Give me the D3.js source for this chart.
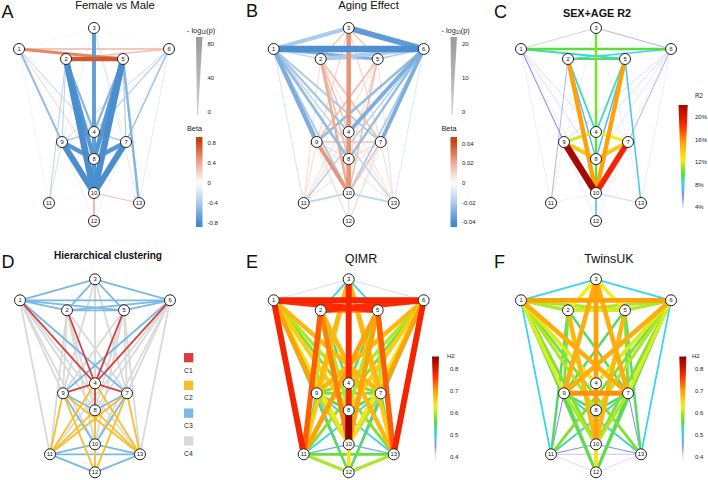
<!DOCTYPE html>
<html><head><meta charset="utf-8">
<script src="https://cdn.jsdelivr.net/npm/d3@7"></script>
<style>body{margin:0;background:#fff} svg{display:block;font-family:Arial,"Liberation Sans",sans-serif}</style>
</head><body><svg id="c" width="708" height="480"></svg>
<script>
// ---------- data ----------
const nodeIds = [1,2,3,4,5,6,7,8,9,10,11,12,13];
const nodeLayoutX = [-75,-28,0,0,29,75,32,0,-32,0,-45,0,45];
const nodeLayoutY = [21,31,0,104,31,21,114,131,114,165,175,193,175];

const panelLetters = ["A","B","C","D","E","F"];
const panelTitles = ["Female vs Male","Aging Effect","SEX+AGE R2","Hierarchical clustering","QIMR","TwinsUK"];

// [source, target, beta, -log10(p)]
const edgesA = [
 [1,6,0.35,20],[1,5,0.55,35],[2,5,0.75,60],[2,6,0.3,18],
 [3,10,-0.7,50],[2,10,-0.8,85],[5,10,-0.8,85],[2,8,-0.75,55],[5,8,-0.75,60],
 [9,10,-0.8,80],[7,10,-0.8,80],[9,8,-0.75,55],[7,8,-0.75,55],[8,10,-0.75,50],
 [4,10,-0.7,40],[4,8,-0.6,30],[2,4,-0.55,25],[5,4,-0.55,25],[9,4,-0.4,15],[7,4,-0.4,15],
 [1,9,-0.5,22],[1,8,0.3,6],[1,4,-0.3,10],[6,7,-0.45,18],[6,4,-0.35,12],[6,9,-0.3,8],
 [5,13,-0.55,30],[2,11,-0.35,10],[2,9,-0.35,10],[5,7,-0.4,12],[9,11,-0.3,6],
 [3,13,-0.25,5],[3,9,-0.2,4],[3,7,-0.2,4],[10,12,0.45,15],[10,13,0.35,8],
 [10,11,0.1,2],[11,12,-0.1,2],[1,11,-0.2,2],[6,13,-0.25,4],[3,12,-0.2,3],
 [1,3,0.15,1],[3,6,0.1,1],[9,12,-0.2,3],[7,12,-0.2,3],[1,10,-0.15,2],[6,10,-0.2,3],
 [4,11,-0.15,2],[4,13,-0.15,2],[8,12,-0.2,3],[1,7,0.15,2]
];
const betaTicksA = [0.8,0.4,0,-0.4,-0.8];
const logpTicksA = [80,40,0];

const edgesB = [
 [1,6,-0.04,22],[3,6,-0.036,19],[1,3,-0.02,14],[2,6,-0.02,13],[1,5,-0.03,10],
 [2,5,-0.015,5],[1,2,-0.015,5],[5,6,-0.02,5],
 [1,9,-0.03,14],[1,8,-0.025,9],[1,4,-0.022,7],[1,7,-0.02,6],[1,10,-0.02,6],[1,13,-0.015,4],[1,11,-0.012,2],[1,12,-0.01,1.5],
 [6,7,-0.03,12],[6,4,-0.03,13],[6,9,-0.025,8],[6,8,-0.025,7],[6,10,-0.02,5],[6,11,-0.018,4],[6,12,-0.01,1.5],[6,13,-0.01,2],
 [3,10,0.025,15],[4,10,0.025,12],[9,10,0.025,12],[2,10,0.02,8],[2,8,0.015,5],[2,4,0.015,4],[2,7,0.015,5],
 [5,10,0.015,5],[5,9,0.015,6],[5,8,0.01,3],[7,10,0.015,5],[9,7,0.015,5],[9,8,0.01,3],[7,8,0.01,3],
 [10,11,-0.015,6],[10,13,-0.015,6],[2,3,0.015,3],[3,5,0.015,3],[3,9,0.01,3],[3,7,0.01,3],
 [9,11,0.01,2],[4,11,0.01,2],[7,13,0.01,2],[4,13,0.01,2],[9,12,0.01,2],[7,12,0.01,2],[4,12,0.01,2],
 [8,12,0.01,2],[2,11,0.01,2],[5,13,0.01,2],[9,13,0.01,2],[7,11,0.01,2],[2,13,0.01,2],[5,11,0.01,2]
];
const betaTicksB = [0.04,0.02,0,-0.02,-0.04];
const logpTicksB = [20,10,0];

// [source, target, R2 %]
const edgesC = [
 [9,10,22],[7,10,19],[2,10,15.5],[5,10,15.5],[9,8,14],[7,8,14],[9,4,12],[7,4,12.5],
 [3,4,10.5],[4,8,10],[8,10,10],[1,6,10],[2,5,9.5],[1,5,8.5],[2,6,8],[2,4,8.5],[5,4,8.5],
 [5,8,7.5],[2,8,7],[5,13,7.5],[10,12,7.5],[1,9,6],[2,11,5.5],[1,4,4.8],[1,8,4.8],
 [1,3,5],[3,6,5.5],[6,7,5.5],[6,9,4.8],[6,4,4.8],[6,8,4.6],[10,13,5],[3,12,4.6],
 [1,11,4.4],[6,13,4.4],[9,12,4.4],[7,12,4.4],[9,11,4.3],[10,11,4.3],[7,13,4.3],
 [3,9,4.3],[3,7,4.3],[1,10,4.3],[6,10,4.3]
];
const r2Ticks = [20,16,12,8,4];

// [source, target, cluster]
const edgesD = [
 [1,3,"C3"],[3,6,"C3"],[2,3,"C3"],[3,5,"C3"],[1,6,"C3"],[1,2,"C3"],[1,5,"C3"],[2,5,"C3"],[2,6,"C3"],[5,6,"C3"],
 [1,7,"C3"],[6,9,"C3"],[9,10,"C3"],[7,10,"C3"],[11,13,"C3"],[11,12,"C3"],[12,13,"C3"],[10,11,"C3"],[10,13,"C3"],[9,8,"C3"],[7,8,"C3"],
 [1,4,"C1"],[2,4,"C1"],[4,5,"C1"],[4,6,"C1"],[4,9,"C1"],[4,7,"C1"],[4,8,"C1"],
 [9,11,"C2"],[9,12,"C2"],[9,13,"C2"],[7,11,"C2"],[7,12,"C2"],[7,13,"C2"],[4,11,"C2"],[4,13,"C2"],[8,11,"C2"],[8,13,"C2"],[8,12,"C2"],
 [1,11,"C4"],[1,9,"C4"],[1,8,"C4"],[1,10,"C4"],[6,13,"C4"],[6,7,"C4"],[6,8,"C4"],[6,10,"C4"],
 [2,9,"C4"],[2,8,"C4"],[2,10,"C4"],[2,7,"C4"],[2,11,"C4"],[5,7,"C4"],[5,8,"C4"],[5,10,"C4"],[5,9,"C4"],[5,13,"C4"],
 [3,4,"C4"],[3,8,"C4"],[3,9,"C4"],[3,7,"C4"],[4,10,"C4"],[1,13,"C4"],[6,11,"C4"]
];
const clusterNames = ["C1","C2","C3","C4"];
const clusterColors = ["#d8403d","#f8bf2c","#7ab8e5","#d9d9d9"];

// [source, target, H2]
const edgesE = [
 [1,6,0.78],[3,4,0.78],[4,8,0.78],[8,10,0.85],[1,5,0.77],[2,6,0.77],[2,5,0.72],[1,11,0.78],[6,13,0.78],
 [2,11,0.74],[5,13,0.74],[2,10,0.72],[5,11,0.7],[2,13,0.68],[5,10,0.7],
 [1,9,0.7],[1,7,0.68],[1,8,0.66],[1,10,0.64],[1,4,0.6],[1,13,0.58],[1,12,0.55],
 [6,7,0.7],[6,9,0.68],[6,8,0.66],[6,10,0.64],[6,4,0.6],[6,11,0.58],[6,12,0.55],
 [3,9,0.68],[3,7,0.68],[3,11,0.66],[3,13,0.66],[1,3,0.42],[3,6,0.42],[2,3,0.5],[3,5,0.5],
 [11,12,0.6],[12,13,0.6],[11,13,0.57],[10,11,0.47],[10,13,0.47],[10,12,0.64],
 [9,7,0.58],[9,4,0.58],[7,4,0.58],[9,8,0.56],[7,8,0.56],[9,10,0.6],[7,10,0.6],
 [9,11,0.55],[7,13,0.55],[9,13,0.5],[7,11,0.5],[9,12,0.45],[7,12,0.45],
 [2,9,0.6],[5,7,0.6],[2,8,0.6],[5,8,0.6],[2,4,0.55],[5,4,0.55]
];
const edgesF = [
 [1,6,0.7],[3,10,0.7],[3,9,0.69],[3,7,0.69],[9,7,0.71],[1,7,0.69],[6,9,0.69],[2,10,0.68],[5,10,0.68],
 [1,2,0.6],[2,5,0.62],[5,6,0.6],[1,5,0.6],[2,6,0.6],[2,3,0.63],[3,5,0.63],[1,3,0.5],[3,6,0.5],
 [1,11,0.5],[6,13,0.5],
 [1,9,0.62],[1,4,0.62],[1,8,0.6],[1,10,0.58],[1,13,0.58],[1,12,0.56],
 [6,7,0.62],[6,4,0.62],[6,8,0.6],[6,10,0.58],[6,11,0.58],[6,12,0.56],
 [10,12,0.64],[11,12,0.42],[12,13,0.42],[10,11,0.45],[10,13,0.45],[9,11,0.45],[7,13,0.45],[11,13,0.43],
 [9,12,0.55],[7,12,0.55],[9,10,0.6],[7,10,0.6],[9,13,0.52],[7,11,0.52],[9,8,0.55],[7,8,0.55],
 [2,9,0.58],[5,7,0.58],[2,7,0.55],[5,9,0.55],[2,11,0.55],[5,13,0.55],[4,10,0.6]
];
const h2Ticks = [0.8,0.7,0.6,0.5,0.4];

// ---------- drawing ----------
const svg = d3.select("#c");
const defs = svg.append("defs");
const idx = id => nodeIds.indexOf(id);
const FONT = "Arial, 'Liberation Sans', sans-serif";

const rainbowColors = ["#e8e2fa","#8a8cf0","#35d6ef","#5edc3a","#f2ee1e","#ffa20a","#ff2a00","#8b0000"];
const r2Color = d3.scaleLinear().domain([4,6,8,10,12.5,15.5,18.5,23]).range(rainbowColors).clamp(true);
const h2Color = d3.scaleLinear().domain([0.4,0.45,0.5,0.565,0.63,0.7,0.77,0.86]).range(rainbowColors).clamp(true);
const betaColors = ["#3f86cc","#a6c8e8","#ffffff","#eca68e","#c9400f"];

function panelScales(cx, cy){
  return {
    x: d3.scaleLinear().domain([-75,75]).range([cx-75,cx+75]),
    y: d3.scaleLinear().domain([0,193]).range([cy,cy+193])
  };
}

function drawNetwork(cx, cy, edges, color, width, order){
  const sc = panelScales(cx, cy);
  const g = svg.append("g");
  const data = edges.slice().sort(order || ((a,b)=>width(a)-width(b)));
  g.selectAll("line").data(data).join("line")
    .attr("x1", d=>sc.x(nodeLayoutX[idx(d[0])]))
    .attr("y1", d=>sc.y(nodeLayoutY[idx(d[0])]))
    .attr("x2", d=>sc.x(nodeLayoutX[idx(d[1])]))
    .attr("y2", d=>sc.y(nodeLayoutY[idx(d[1])]))
    .attr("stroke", color).attr("stroke-width", width);
  const n = g.selectAll("g.nd").data(nodeIds).join("g").attr("class","nd")
    .attr("transform", id=>`translate(${sc.x(nodeLayoutX[idx(id)])},${sc.y(nodeLayoutY[idx(id)])})`);
  n.append("circle").attr("r",5.5).attr("fill","#fff").attr("stroke","#222").attr("stroke-width",1);
  n.append("text").text(d=>d).attr("text-anchor","middle").attr("dy","0.36em")
    .attr("font-size",5.8).attr("font-family",FONT).attr("fill","#111");
}

function label(x,y,txt,size,opts={}){
  const t = svg.append("text").attr("x",x).attr("y",y).text(txt)
    .attr("font-size",size).attr("font-family",FONT).attr("fill",opts.fill||"#222")
    .attr("text-anchor",opts.anchor||"start").attr("font-weight",opts.weight||"normal");
  return t;
}

function gradient(id, colorAt, n){
  const lg = defs.append("linearGradient").attr("id",id).attr("x1",0).attr("y1",0).attr("x2",0).attr("y2",1);
  d3.range(n+1).forEach(i=>{
    lg.append("stop").attr("offset",i/n).attr("stop-color",colorAt(i/n));
  });
}

// ----- Panels A & B (beta / -log10 p) -----
function betaPanel(cx, cy, edges, maxBeta, maxLogp, betaTicks, logpTicks, lx, gid){
  const bColor = d3.scaleLinear().domain([-1,-0.5,0,0.5,1].map(v=>v*maxBeta)).range(betaColors).clamp(true);
  const wScale = d3.scaleLinear().domain([0,maxLogp]).range([0.3,6.8]);
  drawNetwork(cx, cy, edges, d=>bColor(d[2]), d=>wScale(d[3]));
  // width legend
  const tl = label(lx, 32.5, "- log", 7.3);
  tl.append("tspan").text("10").attr("font-size",4.5).attr("dy",1.5);
  tl.append("tspan").text("(p)").attr("dy",-1.5);
  gradient(gid+"w", t=>d3.interpolateRgb("#9a9a9a","#d0d0d0")(t), 4);
  const lpY = d3.scaleLinear().domain([0,logpTicks[0]]).range([112,44]);
  svg.append("polygon")
    .attr("points",[[lx+9,37],[lx+15.5,37],[lx+11,115],[lx+10,115]].map(p=>p.join(",")).join(" "))
    .attr("fill",`url(#${gid}w)`);
  logpTicks.forEach(v=>label(lx+20.5, lpY(v)+2, v, 6));
  // colour legend
  label(lx, 130.5, "Beta", 7.3);
  const bY = d3.scaleLinear().domain([-maxBeta,maxBeta]).range([225,141]);
  gradient(gid+"c", t=>bColor(bY.invert(137+t*90)), 20);
  svg.append("rect").attr("x",lx+9).attr("y",137).attr("width",6.5).attr("height",90).attr("fill",`url(#${gid}c)`);
  betaTicks.forEach(v=>label(lx+20.5, bY(v)+2, v, 6));
}
betaPanel(94, 28, edgesA, 0.85, 90, betaTicksA, logpTicksA, 187, "ga");
betaPanel(348.7, 28, edgesB, 0.043, 23, betaTicksB, logpTicksB, 441.5, "gb");

// ----- Panel C (R2) -----
{
  const w = d3.scaleLinear().domain([4,23]).range([0.3,7]);
  drawNetwork(596, 28, edgesC, d=>r2Color(d[2]), d=>w(d[2]));
  const yS = d3.scaleLinear().domain([4,20]).range([207.3,117.3]);
  gradient("gc", t=>r2Color(yS.invert(105+t*103)), 30);
  svg.append("polygon").attr("points","678.5,105 687.7,105 683.6,208 682.2,208").attr("fill","url(#gc)");
  label(695, 97.5, "R2", 6.3);
  r2Ticks.forEach(v=>label(695, yS(v)+2, v+"%", 6));
}

// ----- Panel D (clusters) -----
{
  const cCol = d3.scaleOrdinal().domain(clusterNames).range(clusterColors);
  const rank = {C4:0,C3:1,C2:2,C1:3};
  drawNetwork(95, 279.3, edgesD, d=>cCol(d[2]), ()=>1.8, (a,b)=>rank[a[2]]-rank[b[2]]);
  const ly = d3.scaleBand().domain(clusterNames).range([353,446+18]);
  clusterNames.forEach(c=>{
    svg.append("rect").attr("x",184).attr("y",ly(c)).attr("width",9.3).attr("height",9.3).attr("fill",cCol(c));
    label(184, ly(c)+19.5, c, 6.8);
  });
}

// ----- Panels E & F (H2) -----
function h2Panel(cx, cy, edges, bx, lx, gid){
  const w = d3.scaleLinear().domain([0.4,0.85]).range([0.3,7]);
  drawNetwork(cx, cy, edges, d=>h2Color(d[2]), d=>w(d[2]));
  const yS = d3.scaleLinear().domain([0.4,0.8]).range([457.3,369.3]);
  gradient(gid, t=>h2Color(yS.invert(356.5+t*103.5)), 30);
  svg.append("polygon").attr("points",`${bx},356.5 ${bx+7},356.5 ${bx+4},460 ${bx+3},460`).attr("fill",`url(#${gid})`);
  label(lx-3, 357.5, "H2", 6);
  h2Ticks.forEach(v=>label(lx, yS(v)+2, v.toFixed(1), 6));
}
h2Panel(348.7, 279.3, edgesE, 432, 450, "ge");
h2Panel(596, 279.3, edgesF, 679.3, 695, "gf");

// ----- titles and letters -----
const titlePos = [[115,8.5,11.3,"normal"],[368.5,8.5,11.3,"normal"],[597,17,10.8,"bold"],[108,259,10,"bold"],[361,263,12.5,"normal"],[609,263,12.5,"normal"]];
const letterPos = [[1.5,18],[246,17],[494,18],[1.5,268],[246,268],[494,268]];
panelTitles.forEach((t,i)=>{
  const p = titlePos[i];
  label(p[0], p[1], t, p[2], {anchor:"middle", weight:p[3], fill:"#111"});
  label(letterPos[i][0], letterPos[i][1], panelLetters[i], 18, {fill:"#111"});
});
</script></body></html>
